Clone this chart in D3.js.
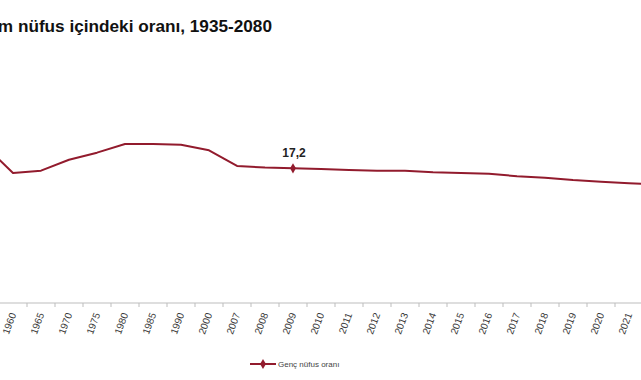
<!DOCTYPE html>
<html>
<head>
<meta charset="utf-8">
<script src="https://cdn.jsdelivr.net/npm/d3@7"></script>
<style>
  body { margin: 0; background: #fff; }
  svg { display: block; font-family: 'Liberation Sans', Arial, sans-serif; }
</style>
</head>
<body>
<div class="vis-container"></div>
<script>
// Categories shown in the (cropped) chart, plus one either side
const years = ['1955', '1960', '1965', '1970', '1975', '1980', '1985', '1990', '2000',
  '2007', '2008', '2009', '2010', '2011', '2012', '2013', '2014', '2015', '2016',
  '2017', '2018', '2019', '2020', '2021', '2022'];
// Genç nüfus oranı (%)
const youthShare = [20.1, 16.6, 16.9, 18.3, 19.2, 20.3, 20.3, 20.2, 19.5,
  17.5, 17.3, 17.2, 17.1, 17.0, 16.9, 16.9, 16.7, 16.6, 16.5,
  16.2, 16.0, 15.7, 15.5, 15.3, 15.1];
const labelledYears = ['2009'];

const width = 641;
const height = 380;
const lineColor = '#921b2d';

const data = years.map((y, i) => ({ year: y, value: youthShare[i] }));

const svg = d3
  .select('.vis-container')
  .append('svg')
  .attr('width', width)
  .attr('height', height);

// Title (left part is cut off in the picture)
svg
  .append('text')
  .attr('x', 272)
  .attr('y', 32)
  .attr('text-anchor', 'end')
  .attr('font-weight', 'bold')
  .attr('font-size', 17.2)
  .attr('fill', '#111')
  .text('Genç nüfusun toplam nüfus içindeki oranı, 1935-2080');

const xScale = d3.scaleBand().domain(years).range([-29, 671]).padding(0);
const yScale = d3.scaleLinear().domain([0, 25]).range([303, 107.25]);
const cx = (d) => xScale(d.year) + xScale.bandwidth() / 2;

// x axis
const xAxis = d3.axisBottom(xScale).tickSize(0);
svg
  .append('g')
  .attr('class', 'x-axis axis')
  .attr('transform', `translate(0, ${yScale(0)})`)
  .call(xAxis)
  .call((g) => g.select('.domain').remove())
  .call((g) =>
    g
      .selectAll('.tick')
      .filter((d) => {
        const x = xScale(d) + xScale.bandwidth() / 2;
        return x < 5 || x > width;
      })
      .remove()
  )
  .call((g) =>
    g
      .selectAll('.tick text')
      .attr('x', 0)
      .attr('y', 0)
      .attr('dy', '0.35em')
      .attr('text-anchor', 'end')
      .attr('transform', 'translate(0, 10) rotate(-70)')
      .attr('font-size', 10)
      .attr('font-family', "'Liberation Sans', Arial, sans-serif")
      .attr('fill', '#3a3a3a')
  );

svg
  .append('line')
  .attr('x1', 0)
  .attr('x2', width)
  .attr('y1', yScale(0))
  .attr('y2', yScale(0))
  .attr('stroke', '#bdbdbd')
  .attr('stroke-width', 1.2);

// tick marks between categories
svg
  .append('g')
  .selectAll('line')
  .data(years)
  .join('line')
  .attr('x1', (d) => xScale(d))
  .attr('x2', (d) => xScale(d))
  .attr('y1', yScale(0))
  .attr('y2', yScale(0) + 4)
  .attr('stroke', '#bdbdbd');

const line = d3
  .line()
  .x(cx)
  .y((d) => yScale(d.value));

svg
  .append('path')
  .datum(data)
  .attr('fill', 'none')
  .attr('stroke', lineColor)
  .attr('stroke-width', 2)
  .attr('stroke-linejoin', 'round')
  .attr('d', line);

const diamond = d3.symbol().type(d3.symbolDiamond).size(30);

const labelled = data.filter((d) => labelledYears.includes(d.year));

svg
  .selectAll('.marker')
  .data(labelled)
  .join('path')
  .attr('class', 'marker')
  .attr('d', diamond)
  .attr('transform', (d) => `translate(${cx(d)},${yScale(d.value)})`)
  .attr('fill', lineColor);

svg
  .selectAll('.value-label')
  .data(labelled)
  .join('text')
  .attr('class', 'value-label')
  .attr('x', (d) => cx(d) + 1)
  .attr('y', (d) => yScale(d.value) - 11)
  .attr('text-anchor', 'middle')
  .attr('font-size', 12)
  .attr('font-weight', 'bold')
  .attr('fill', '#222')
  .text((d) => d3.format('.1f')(d.value).replace('.', ','));

// legend
const legend = svg.append('g').attr('transform', 'translate(250, 364)');
legend
  .append('line')
  .attr('x1', 0)
  .attr('x2', 26)
  .attr('stroke', lineColor)
  .attr('stroke-width', 2);
legend
  .append('path')
  .attr('d', diamond)
  .attr('transform', 'translate(13,0)')
  .attr('fill', lineColor);
legend
  .append('text')
  .attr('x', 28)
  .attr('dy', '0.35em')
  .attr('font-size', 8)
  .attr('fill', '#444')
  .text('Genç nüfus oranı');
</script>
</body>
</html>
